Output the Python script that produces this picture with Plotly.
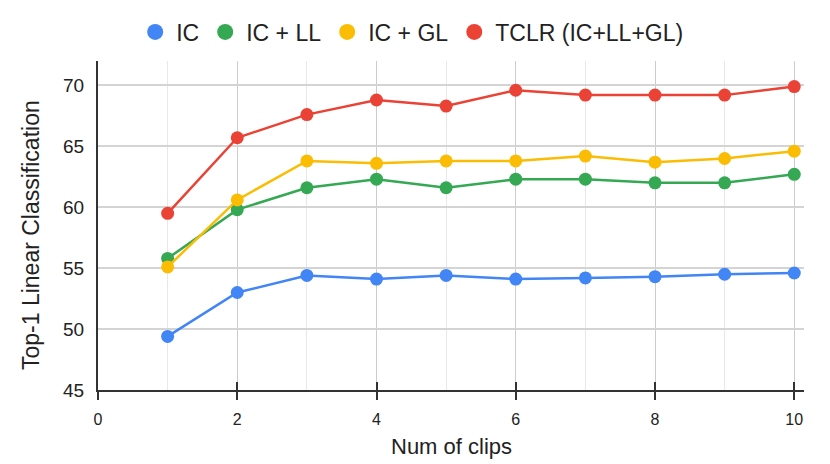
import plotly.graph_objects as go

clips = [1, 2, 3, 4, 5, 6, 7, 8, 9, 10]
ic = [49.4, 53.0, 54.4, 54.1, 54.4, 54.1, 54.2, 54.3, 54.5, 54.6]
ic_ll = [55.8, 59.8, 61.6, 62.3, 61.6, 62.3, 62.3, 62.0, 62.0, 62.7]
ic_gl = [55.1, 60.6, 63.8, 63.6, 63.8, 63.8, 64.2, 63.7, 64.0, 64.6]
tclr = [59.5, 65.7, 67.6, 68.8, 68.3, 69.6, 69.2, 69.2, 69.2, 69.9]

names = ["IC", "IC + LL", "IC + GL", "TCLR (IC+LL+GL)"]
colors = ["#4285F4", "#34A853", "#FBBC04", "#EA4335"]
series = [ic, ic_ll, ic_gl, tclr]

x_ticks = [0, 2, 4, 6, 8, 10]
y_ticks = [45, 50, 55, 60, 65, 70]

FONT = "Liberation Sans, Arial, sans-serif"
TXT = "#222222"

fig = go.Figure()
for name, col, vals in zip(names, colors, series):
    fig.add_trace(go.Scatter(
        x=clips, y=vals, mode="lines+markers", name=name,
        line=dict(color=col, width=2.5),
        marker=dict(color=col, size=13),
        showlegend=False,
    ))
# legend-only entries (dots)
for name, col in zip(names, colors):
    fig.add_trace(go.Scatter(
        x=[None], y=[None], mode="markers", name=name,
        marker=dict(color=col, size=18),
        showlegend=True,
    ))

fig.update_layout(
    width=830, height=464,
    margin=dict(l=98, r=26, t=61, b=74, autoexpand=False),
    paper_bgcolor="white", plot_bgcolor="white",
    font=dict(family=FONT, color=TXT),
    legend=dict(
        orientation="h", xref="container", yref="container",
        x=0.496, xanchor="center", y=1 - 32 / 464, yanchor="middle",
        font=dict(size=23, color=TXT, family=FONT),
        itemwidth=32,
        bgcolor="rgba(0,0,0,0)",
    ),
    xaxis=dict(
        range=[0, 10.14], tickvals=x_ticks, ticktext=[str(v) for v in x_ticks],
        showgrid=True, gridcolor="#cccccc", gridwidth=1.3,
        minor=dict(dtick=1, tick0=0, showgrid=True, gridcolor="#e8e8e8", gridwidth=1.3),
        showline=True, linecolor="#333333", linewidth=1.5,
        ticks="outside", ticklen=8, tickcolor="#333333", tickwidth=1.5,
        tickfont=dict(size=16, color=TXT), ticklabelstandoff=6,
        zeroline=False,
    ),
    xaxis2=dict(
        overlaying="x", anchor="y", side="bottom",
        range=[0, 10.14], tickvals=x_ticks, showticklabels=False,
        ticks="inside", ticklen=8, tickcolor="#333333", tickwidth=1.5,
        showgrid=False, showline=False, zeroline=False,
    ),
    yaxis=dict(
        range=[45, 72], tickvals=y_ticks, ticktext=[str(v) for v in y_ticks],
        showgrid=True, gridcolor="#d4d4d4", gridwidth=1.5,
        showline=True, linecolor="#333333", linewidth=2,
        ticks="", tickfont=dict(size=19, color=TXT), ticklabelstandoff=8,
        zeroline=False,
    ),
    annotations=[
        dict(text="Top-1 Linear Classification", xref="paper", yref="paper",
             x=0, y=(390 - 235) / 329, xanchor="center", yanchor="middle",
             xshift=-67, textangle=-90, showarrow=False,
             font=dict(size=23, color=TXT, family=FONT)),
        dict(text="Num of clips", xref="paper", yref="paper",
             x=0.5, y=0, xanchor="center", yanchor="middle",
             yshift=-56, showarrow=False,
             font=dict(size=22, color=TXT, family=FONT)),
    ],
)
# dummy trace on the overlay axis so its ticks render
fig.add_trace(go.Scatter(x=[None], y=[None], xaxis="x2", yaxis="y",
                         showlegend=False, hoverinfo="skip"))

fig.write_html("out.html", config={"displayModeBar": False},
               post_script="document.body.style.margin='0';document.body.style.overflow='hidden';")
